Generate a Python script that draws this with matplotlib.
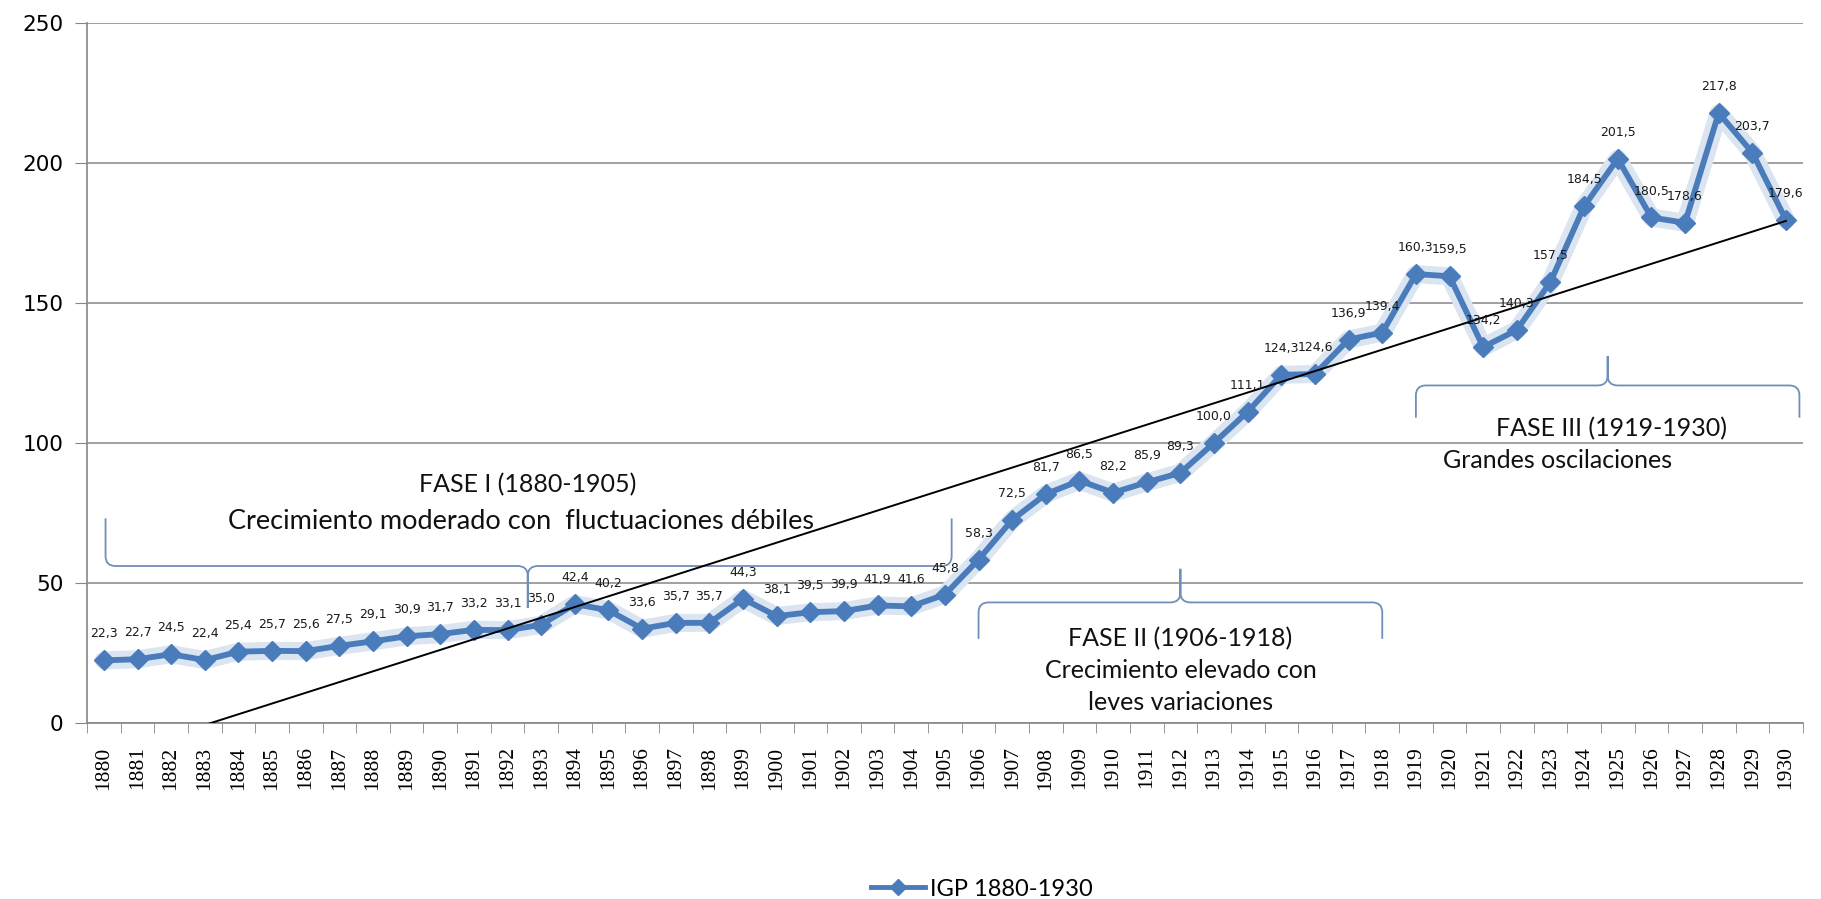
import numpy as np
import matplotlib
matplotlib.use("Agg")
from matplotlib import pyplot as plt
from matplotlib.path import Path
from matplotlib.patches import PathPatch
from matplotlib.lines import Line2D

# IGP 1880-1930
years = list(range(1880, 1931))
igp = [22.3, 22.7, 24.5, 22.4, 25.4, 25.7, 25.6, 27.5, 29.1, 30.9,
       31.7, 33.2, 33.1, 35.0, 42.4, 40.2, 33.6, 35.7, 35.7, 44.3,
       38.1, 39.5, 39.9, 41.9, 41.6, 45.8, 58.3, 72.5, 81.7, 86.5,
       82.2, 85.9, 89.3, 100.0, 111.1, 124.3, 124.6, 136.9, 139.4, 160.3,
       159.5, 134.2, 140.3, 157.5, 184.5, 201.5, 180.5, 178.6, 217.8, 203.7,
       179.6]
yticks = [0, 50, 100, 150, 200, 250]
series_name = "IGP 1880-1930"

blue = "#4a7cbb"
grey = "#868686"

fig = plt.figure(figsize=(18.21, 8.99), dpi=100)
ax = fig.add_axes([0.0478, 0.196, 0.9422, 0.7785])

x = np.arange(len(years))

# soft glow behind the series
ax.plot(x, igp, color="#dbe5f1", lw=13, solid_capstyle="round", zorder=2)
ax.plot(x, igp, color=blue, lw=4.2, marker="D", markersize=10,
        markeredgecolor=blue, zorder=3)

# linear trend
a, b = np.polyfit(x, igp, 1)
ax.plot([x[0], x[-1]], [b, a * x[-1] + b], color="black", lw=1.4, zorder=4)

# value labels with decimal comma
for xi, v in zip(x, igp):
    ax.annotate(f"{v:.1f}".replace(".", ","), (xi, v), xytext=(0, 19),
                textcoords="offset points", ha="center", va="center",
                fontsize=9, family="DejaVu Sans", color="#1a1a1a", zorder=5)

ax.set_xlim(-0.5, len(years) - 0.5)
ax.set_ylim(0, 250)
ax.set_yticks(yticks)
ax.set_yticklabels([str(t) for t in yticks], fontsize=15.5, family="DejaVu Sans")
ax.set_xticks(x)
ax.set_xticklabels([str(y) for y in years], rotation=90, fontsize=15.5,
                   family="Liberation Serif")
ax.set_xticks(np.arange(-0.5, len(years)), minor=True)
ax.tick_params(axis="x", which="major", length=0, pad=17)
ax.tick_params(axis="x", which="minor", length=7, color=grey, direction="out")
ax.tick_params(axis="y", length=9, color=grey, pad=8)

ax.grid(axis="y", color=grey, lw=1.1)
ax.set_axisbelow(True)
for s in ["top", "right"]:
    ax.spines[s].set_visible(False)
for s in ["left", "bottom"]:
    ax.spines[s].set_color(grey)
    ax.spines[s].set_linewidth(1.2)


def brace(x0, x1, xm, yb, yend, ytip, rx=0.3, ry=3.5):
    # horizontal curly brace: ends bend toward yend, point toward ytip
    se = np.sign(yend - yb)
    st = np.sign(ytip - yb)
    verts = [(x0, yend), (x0, yb + se * ry), (x0, yb), (x0 + rx, yb),
             (xm - rx, yb), (xm, yb), (xm, yb + st * ry), (xm, ytip),
             (xm, yb + st * ry), (xm, yb), (xm + rx, yb),
             (x1 - rx, yb), (x1, yb), (x1, yb + se * ry), (x1, yend)]
    codes = [Path.MOVETO, Path.LINETO, Path.CURVE3, Path.CURVE3,
             Path.LINETO, Path.CURVE3, Path.CURVE3, Path.LINETO,
             Path.LINETO, Path.CURVE3, Path.CURVE3,
             Path.LINETO, Path.CURVE3, Path.CURVE3, Path.LINETO]
    ax.add_patch(PathPatch(Path(verts, codes), fill=False, color="#6f8fb8",
                           lw=1.3, zorder=2.5))


brace(0.05, 25.2, 12.6, 56, 73, 41)
brace(26.0, 38.0, 32.0, 43, 30, 55)
brace(39.0, 50.4, 44.7, 120.5, 109, 131)

tkw = dict(ha="center", va="center", fontsize=18, family="Lato", color="#111111")
ax.text(12.6, 85, "FASE I (1880-1905)", **tkw)
ax.text(12.4, 71.8, "Crecimiento moderado con  fluctuaciones débiles",
        **{**tkw, "fontsize": 19.5})
ax.text(32.0, 30, "FASE II (1906-1918)", **tkw)
ax.text(32.0, 18.6, "Crecimiento elevado con", **tkw)
ax.text(32.0, 7.4, "leves variaciones", **tkw)
ax.text(44.8, 105.2, "FASE III (1919-1930)", **tkw)
ax.text(43.2, 93.6, "Grandes oscilaciones", **tkw)

handle = Line2D([], [], color=blue, lw=3.5, marker="D", markersize=8)
fig.legend([handle], [series_name], loc="center", bbox_to_anchor=(0.539, 0.011),
           frameon=False, prop={"family": "Lato", "size": 17},
           handlelength=2.3, handletextpad=0.2)

fig.savefig("out.png", dpi=100)
